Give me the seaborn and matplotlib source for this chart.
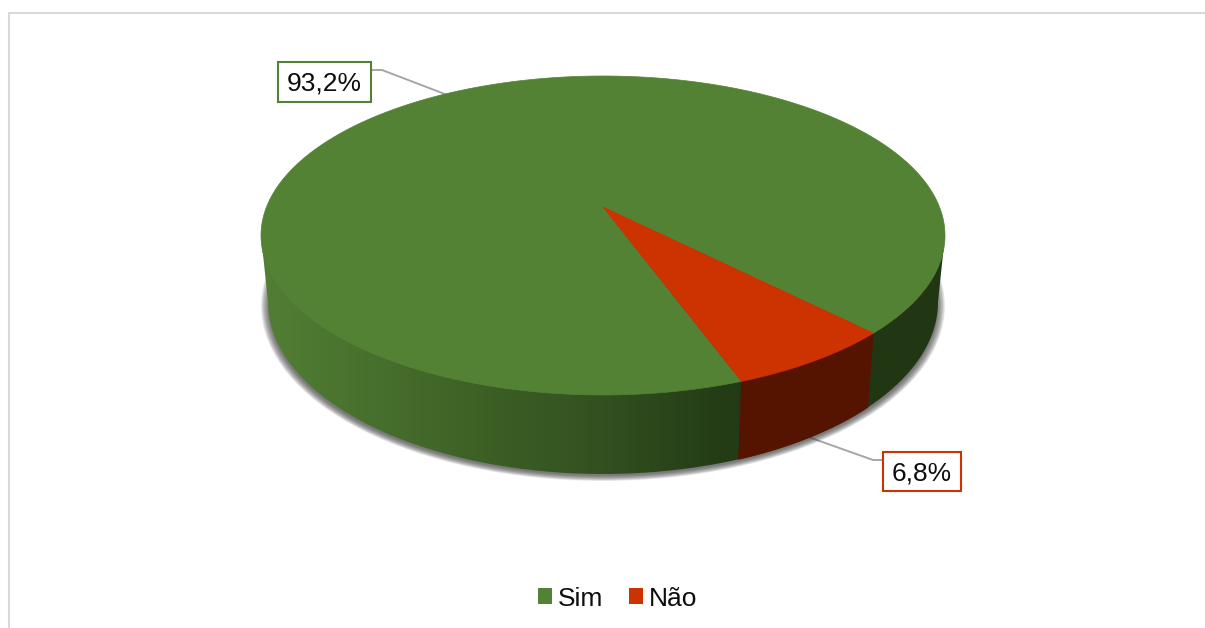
import numpy as np
import matplotlib
matplotlib.use("Agg")
import matplotlib.pyplot as plt
import seaborn as sns
from matplotlib.patches import Ellipse, Patch, Rectangle

categorias = ["Sim", "Não"]
valores = [93.2, 6.8]
cores = ["#548235", "#CC3300"]
cores_lado = ["#3a5c24", "#551400"]
rampa_lado = ["#527F34", "#476F2D", "#3C5F25", "#325020", "#243D16", "#213713", "#213713"]

sns.set_theme(style="white")
plt.rcParams["font.family"] = ["Liberation Sans", "DejaVu Sans"]

fig = plt.figure(figsize=(12.05, 6.28), dpi=100)
ax = fig.add_axes([0, 0, 1, 1])
ax.axis("off")

# perspective of the top disc, in pixels
cx, apice_y = 603, 207
A, B, k = 336.5, 154.4, 0.1786
# bottom disc
base_y, base_rx, base_ry = 302, 335, 172


def topo(ang):
    t = np.radians(ang)
    w = 1 + k * np.sin(t)
    return cx + A * np.cos(t) / w, apice_y - B * np.sin(t) / w


def base(ang):
    # same x direction as the top rim, slightly narrower, on the bottom ellipse
    x, _ = topo(ang)
    dx = (x - cx) * base_rx / 342
    dy = base_ry * np.sqrt(np.clip(1 - (dx / base_rx) ** 2, 0, 1))
    return cx + dx, base_y + dy


# slice limits come from the values
inicio = -45.5
limites = inicio + np.cumsum([0] + valores) * 3.6

# frame
ax.plot([9, 9, 1205], [628, 13, 13], color="#D9D9D9", lw=1.5, zorder=1)

# leader lines
ax.plot([371, 382, 450], [70, 70, 96], color="#A6A6A6", lw=1.4, zorder=2)
ax.plot([800, 873, 883], [434, 460, 460], color="#A6A6A6", lw=1.4, zorder=2)

# soft shadow under the disc
for i in range(12):
    ax.add_patch(Ellipse((cx, base_y + 4), 2 * (342 - i * 0.7), 2 * (175 - i * 0.5),
                         facecolor="#404040", edgecolor="none", alpha=0.09, zorder=3))

# side wall with horizontal gradient
ang = np.linspace(180, 360, 300)
bx = cx + base_rx * np.cos(np.radians(ang))
by = base_y - base_ry * np.sin(np.radians(ang))
lado = np.column_stack([np.r_[261, bx, 945], np.r_[235, by, 235]])
faixa = ax.fill(lado[:, 0], lado[:, 1], facecolor="none", edgecolor="none", zorder=4)[0]
img = ax.imshow(np.linspace(0, 1, 512)[None, :], extent=(262, 946, 480, 230), aspect="auto",
                cmap=sns.blend_palette(rampa_lado, as_cmap=True), zorder=4)
img.set_clip_path(faixa)

# side wall of the red slice
ang = np.linspace(limites[1], limites[2], 60) - 360
tx, ty = topo(ang)
bx, by = base(ang)
ax.fill(np.r_[tx, bx[::-1]], np.r_[ty, by[::-1]], color=cores_lado[1], lw=0.5, zorder=5)

# top of the disc
for i, cor in enumerate(cores):
    ang = np.linspace(limites[i], limites[i + 1], 400)
    tx, ty = topo(ang)
    ax.fill(np.r_[cx, tx], np.r_[apice_y, ty], color=cor, lw=0.5, zorder=6)

# value labels
caixas = [(278, 62, 93, 40), (883, 452, 78, 39)]
for v, cor, (x, y, w, h) in zip(valores, cores, caixas):
    ax.add_patch(Rectangle((x, y), w, h, facecolor="white", edgecolor=cor, lw=1.5, zorder=7))
    ax.text(x + w / 2, y + h / 2 + 1.5, f"{v:.1f}%".replace(".", ","), ha="center", va="center",
            fontsize=19, color="#0D0D0D", zorder=8)

ax.set_xlim(0, 1205)
ax.set_ylim(628, 0)

alcas = [Patch(facecolor=c, edgecolor="none", label=n) for c, n in zip(cores, categorias)]
ax.legend(handles=alcas, loc="center", bbox_to_anchor=(617.5 / 1205, 1 - 598.5 / 628), ncol=2, frameon=False,
          fontsize=19, labelcolor="#0D0D0D", handlelength=0.54, handleheight=0.54,
          handletextpad=0.2, columnspacing=1.0, borderpad=0, borderaxespad=0)

fig.savefig("out.png", dpi=100, facecolor="white")
